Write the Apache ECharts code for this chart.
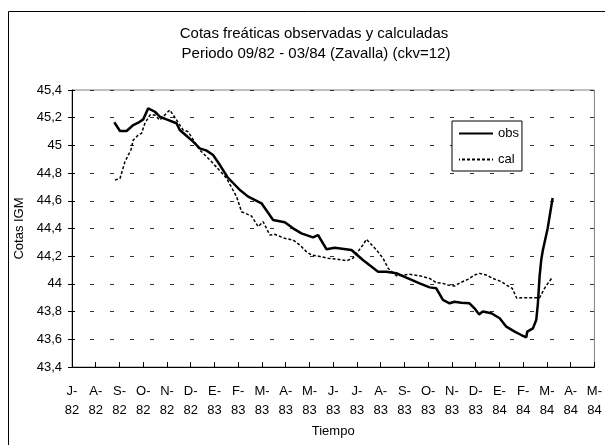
<!DOCTYPE html>
<html>
<head>
<meta charset="utf-8">
<script src="https://cdn.jsdelivr.net/npm/echarts@6/dist/echarts.min.js"></script>
<style>
  html, body { margin: 0; padding: 0; background: #fff; }
  #chart { width: 605px; height: 445px; }
</style>
</head>
<body>
<div id="chart"></div>
<script>
// etiquetas del eje x (meses desde julio 1982)
var xLabels = ['J-\n82', 'A-\n82', 'S-\n82', 'O-\n82', 'N-\n82', 'D-\n82',
  'E-\n83', 'F-\n83', 'M-\n83', 'A-\n83', 'M-\n83', 'J-\n83', 'J-\n83', 'A-\n83',
  'S-\n83', 'O-\n83', 'N-\n83', 'D-\n83', 'E-\n84', 'F-\n84', 'M-\n84', 'A-\n84', 'M-\n84'];

// observadas: posicion en meses y cota
var obsMonth = [1.78, 2.02, 2.30, 2.58, 2.79, 3.00, 3.21, 3.49, 3.70, 3.98, 4.40, 4.54, 4.83, 5.10,
  5.38, 5.67, 5.94, 6.23, 6.55, 7.07, 7.42, 7.98, 8.47, 8.96, 9.31, 9.66, 10.15, 10.36, 10.72,
  11.06, 11.77, 12.25, 12.89, 13.24, 13.66, 14.08, 14.64, 15.06, 15.34, 15.62, 15.90, 16.11,
  16.39, 16.74, 16.95, 17.14, 17.30, 17.66, 18.01, 18.29, 18.64, 18.92, 19.13, 19.17, 19.41,
  19.55, 19.62, 19.69, 19.76, 19.83, 20.03, 20.24];
var obsValue = [45.167, 45.104, 45.104, 45.147, 45.164, 45.188, 45.268, 45.243, 45.207, 45.188,
  45.160, 45.111, 45.068, 45.027, 44.979, 44.962, 44.931, 44.858, 44.770, 44.678, 44.630, 44.582,
  44.461, 44.445, 44.401, 44.365, 44.336, 44.353, 44.250, 44.261, 44.245, 44.173, 44.088, 44.088,
  44.077, 44.045, 44.004, 43.975, 43.968, 43.884, 43.860, 43.871, 43.864, 43.860, 43.824, 43.780,
  43.800, 43.788, 43.752, 43.691, 43.655, 43.631, 43.614, 43.655, 43.679, 43.739, 43.860, 44.052,
  44.173, 44.245, 44.400, 44.620];

// calculadas
var calMonth = [1.81, 2.02, 2.23, 2.48, 2.58, 2.79, 2.93, 3.07, 3.28, 3.49, 3.70, 3.98, 4.12, 4.68,
  4.89, 5.38, 5.88, 6.51, 6.93, 7.14, 7.56, 7.84, 8.05, 8.33, 8.54, 8.96, 9.31, 9.59, 9.87, 10.08,
  10.50, 10.78, 11.14, 11.56, 11.83, 12.25, 12.40, 12.82, 13.10, 13.31, 13.66, 14.22, 14.64, 15.06,
  15.34, 15.62, 15.83, 16.11, 16.39, 16.67, 16.95, 17.16, 17.45, 17.72, 18.08, 18.36, 18.54, 18.73,
  18.98, 19.27, 19.69, 19.90, 20.04, 20.23];
var calValue = [44.750, 44.761, 44.882, 44.967, 45.039, 45.075, 45.087, 45.160, 45.219, 45.219,
  45.183, 45.232, 45.256, 45.111, 45.099, 44.967, 44.882, 44.762, 44.630, 44.521, 44.490, 44.413,
  44.449, 44.353, 44.358, 44.329, 44.317, 44.281, 44.233, 44.209, 44.196, 44.185, 44.180, 44.167,
  44.185, 44.281, 44.322, 44.245, 44.185, 44.113, 44.059, 44.069, 44.059, 44.040, 44.009, 44.004,
  43.992, 43.985, 44.012, 44.033, 44.064, 44.076, 44.064, 44.040, 44.016, 43.985, 43.968, 43.896,
  43.900, 43.900, 43.900, 43.968, 44.004, 44.048];

function pairs(xs, ys) {
  return xs.map(function (x, i) { return [x, ys[i]]; });
}

var fontFam = "'Liberation Sans', Arial, sans-serif";
var chart = echarts.init(document.getElementById('chart'));

var option = {
  animation: false,
  backgroundColor: '#fff',
  textStyle: { fontFamily: fontFam, color: '#000' },
  title: [{
    text: 'Cotas freáticas observadas y calculadas',
    left: 314, top: 26, textAlign: 'center', padding: 0,
    textStyle: { fontFamily: fontFam, fontSize: 15, fontWeight: 'normal', color: '#000' }
  }, {
    text: 'Periodo 09/82 - 03/84 (Zavalla) (ckv=12)',
    left: 316, top: 46, textAlign: 'center', padding: 0,
    textStyle: { fontFamily: fontFam, fontSize: 15, fontWeight: 'normal', color: '#000' }
  }],
  // marco exterior
  graphic: [{
    type: 'rect',
    shape: { x: 8.5, y: 11.5, width: 700, height: 500 },
    style: { fill: null, stroke: '#000', lineWidth: 1 },
    silent: true, z: -1
  }],
  legend: {
    orient: 'vertical',
    left: 452, top: 121,
    padding: [6, 3, 5, 6],
    itemWidth: 34, itemHeight: 14, itemGap: 13,
    backgroundColor: '#fff',
    borderColor: '#000', borderWidth: 1,
    // solo la linea, sin simbolo
    itemStyle: { opacity: 0 },
    textStyle: { fontFamily: fontFam, fontSize: 13, color: '#000' },
    data: ['obs', 'cal']
  },
  grid: {
    left: 72, right: 10, top: 90, bottom: 78,
    show: true, borderColor: '#808080', borderWidth: 1, backgroundColor: '#fff'
  },
  xAxis: {
    type: 'value',
    min: 0, max: 22, interval: 1,
    name: 'Tiempo', nameLocation: 'middle', nameGap: 56,
    nameTextStyle: { fontFamily: fontFam, fontSize: 13, color: '#000' },
    axisLine: { lineStyle: { color: '#000', width: 1 } },
    axisTick: { inside: true, length: 5, lineStyle: { color: '#000' } },
    axisLabel: {
      fontFamily: fontFam, fontSize: 13, color: '#000', margin: 15, lineHeight: 19,
      showMinLabel: true, showMaxLabel: true,
      formatter: function (v) { return xLabels[Math.round(v)]; }
    },
    splitLine: { show: false }
  },
  yAxis: [{
    type: 'value',
    min: 43.4, max: 45.4, interval: 0.2,
    name: 'Cotas IGM', nameLocation: 'middle', nameGap: 42, nameRotate: 90,
    nameTextStyle: { fontFamily: fontFam, fontSize: 13, color: '#000' },
    axisLine: { show: true, lineStyle: { color: '#000', width: 1 } },
    axisTick: { show: true, length: 4, lineStyle: { color: '#000' } },
    axisLabel: {
      fontFamily: fontFam, fontSize: 13, color: '#000', margin: 10,
      formatter: function (v) { return String(+v.toFixed(1)).replace('.', ','); }
    },
    splitLine: { show: true, lineStyle: { color: '#333', width: 1, type: [4, 16], dashOffset: 2 } }
  }, {
    // marcas cruzadas del eje y
    type: 'value',
    position: 'left',
    min: 43.4, max: 45.4, interval: 0.2,
    axisLine: { show: false },
    axisTick: { show: true, inside: true, length: 3, lineStyle: { color: '#000' } },
    axisLabel: { show: false },
    splitLine: { show: false }
  }],
  series: [{
    name: 'obs',
    type: 'line',
    symbol: 'none',
    data: pairs(obsMonth, obsValue),
    lineStyle: { color: '#000', width: 2.5 },
    itemStyle: { color: '#000' },
    z: 3
  }, {
    name: 'cal',
    type: 'line',
    symbol: 'none',
    data: pairs(calMonth, calValue),
    lineStyle: { color: '#000', width: 1.5, type: [3, 2] },
    itemStyle: { color: '#000' },
    z: 2
  }]
};

chart.setOption(option);
</script>
</body>
</html>
